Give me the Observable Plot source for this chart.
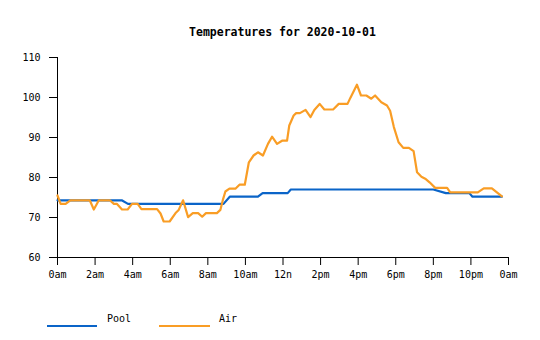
<!DOCTYPE html>
<html>
<head>
<meta charset="utf-8">
<script src="https://cdn.jsdelivr.net/npm/d3@7"></script>
<script src="https://cdn.jsdelivr.net/npm/@observablehq/plot@0.6"></script>
<style>
  html, body { margin: 0; padding: 0; background: #fff; }
  #wrap { position: relative; width: 540px; height: 340px; font-family: "DejaVu Sans Mono", monospace; color: #000; }
  #title { position: absolute; left: 57px; width: 451px; top: 25px; text-align: center; font-weight: bold; font-size: 11.5px; line-height: 14px; }
  #chart { position: absolute; left: 0; top: 45px; }
  .leg { position: absolute; height: 0; border-top: 2.5px solid; top: 325px; }
  .legt { position: absolute; top: 313px; font-size: 10px; line-height: 12px; }
</style>
</head>
<body>
<div id="wrap">
  <div id="title">Temperatures for 2020-10-01</div>
  <div id="chart"></div>
  <div class="leg" style="left:47px;width:50px;border-color:#0a64c8"></div>
  <div class="legt" style="left:107px">Pool</div>
  <div class="leg" style="left:159px;width:51px;border-color:#f99d25"></div>
  <div class="legt" style="left:219px">Air</div>
</div>
<script>
const tickHours = [0, 2, 4, 6, 8, 10, 12, 14, 16, 18, 20, 22, 24];
const tickLabels = ["0am", "2am", "4am", "6am", "8am", "10am", "12n", "2pm", "4pm", "6pm", "8pm", "10pm", "0am"];
const yTicks = [60, 70, 80, 90, 100, 110];

const poolTimes = ["00:00", "03:25", "03:45", "08:50", "09:10", "10:40", "10:55", "12:15", "12:25", "20:00", "20:40", "21:55", "22:05", "23:39"];
const poolValues = [74.3, 74.3, 73.4, 73.4, 75.2, 75.2, 76.1, 76.1, 77.0, 77.0, 76.1, 76.1, 75.2, 75.2];

const airTimes = ["00:00", "00:10", "00:26", "00:41", "01:43", "01:56", "02:12", "02:47", "03:00", "03:10", "03:26", "03:44", "03:58", "04:16", "04:28", "05:18", "05:29", "05:39", "05:58", "06:17", "06:27", "06:41", "06:57", "07:12", "07:29", "07:42", "07:54", "08:29", "08:40", "08:48", "08:56", "09:09", "09:28", "09:41", "09:58", "10:11", "10:26", "10:40", "10:56", "11:12", "11:25", "11:41", "11:57", "12:13", "12:20", "12:34", "12:42", "12:54", "13:12", "13:28", "13:40", "13:57", "14:12", "14:40", "14:58", "15:26", "15:35", "15:56", "16:09", "16:26", "16:42", "16:54", "17:14", "17:32", "17:42", "17:54", "18:09", "18:24", "18:42", "18:57", "19:08", "19:22", "19:34", "19:48", "20:06", "20:44", "20:54", "22:22", "22:41", "23:07", "23:39"];
const airValues = [75.5, 73.4, 73.4, 74.3, 74.3, 72.0, 74.3, 74.3, 73.4, 73.4, 72.0, 72.0, 73.4, 73.4, 72.1, 72.1, 71.0, 69.0, 69.0, 71.1, 71.9, 74.3, 70.1, 71.1, 71.1, 70.2, 71.1, 71.1, 71.9, 74.4, 76.5, 77.2, 77.2, 78.2, 78.2, 83.8, 85.5, 86.3, 85.5, 88.4, 90.2, 88.4, 89.2, 89.2, 93.0, 95.5, 96.1, 96.1, 96.9, 95.1, 96.9, 98.4, 97.0, 97.0, 98.4, 98.4, 99.9, 103.2, 100.5, 100.5, 99.7, 100.5, 98.8, 98.0, 96.7, 92.6, 88.8, 87.4, 87.4, 86.6, 81.3, 80.2, 79.7, 78.8, 77.4, 77.4, 76.3, 76.3, 77.3, 77.3, 75.3];

const t0 = new Date(Date.UTC(2020, 9, 1, 0, 0));
const t1 = new Date(Date.UTC(2020, 9, 2, 0, 0));
const toDate = s => { const [h, m] = s.split(":").map(Number); return new Date(Date.UTC(2020, 9, 1, h, m)); };

const pool = poolTimes.map((t, i) => ({time: toDate(t), value: poolValues[i]}));
const air = airTimes.map((t, i) => ({time: toDate(t), value: airValues[i]}));
const tickDates = tickHours.map(h => new Date(t0.getTime() + h * 3600000));
const fmt = d => tickLabels[Math.round((d - t0) / 3600000 / 2)];

const chart = Plot.plot({
  width: 540,
  height: 245,
  marginTop: 12,
  marginBottom: 33,
  marginLeft: 57,
  marginRight: 32,
  style: {fontFamily: "DejaVu Sans Mono, monospace", fontSize: "10px", color: "#000", background: "#fff"},
  x: {type: "utc", domain: [t0, t1], ticks: tickDates, tickFormat: fmt, tickSize: 8, tickPadding: 5, label: null},
  y: {domain: [60, 110], ticks: yTicks, tickSize: 8, tickPadding: 9, label: null},
  marks: [
    Plot.ruleX([t0], {y1: 60, y2: 110, stroke: "#000"}),
    Plot.ruleY([60], {x1: t0, x2: t1, stroke: "#000"}),
    Plot.line(pool, {x: "time", y: "value", stroke: "#0a64c8", strokeWidth: 2.2}),
    Plot.line(air, {x: "time", y: "value", stroke: "#f99d25", strokeWidth: 2.2})
  ]
});
document.getElementById("chart").appendChild(chart);
</script>
</body>
</html>
